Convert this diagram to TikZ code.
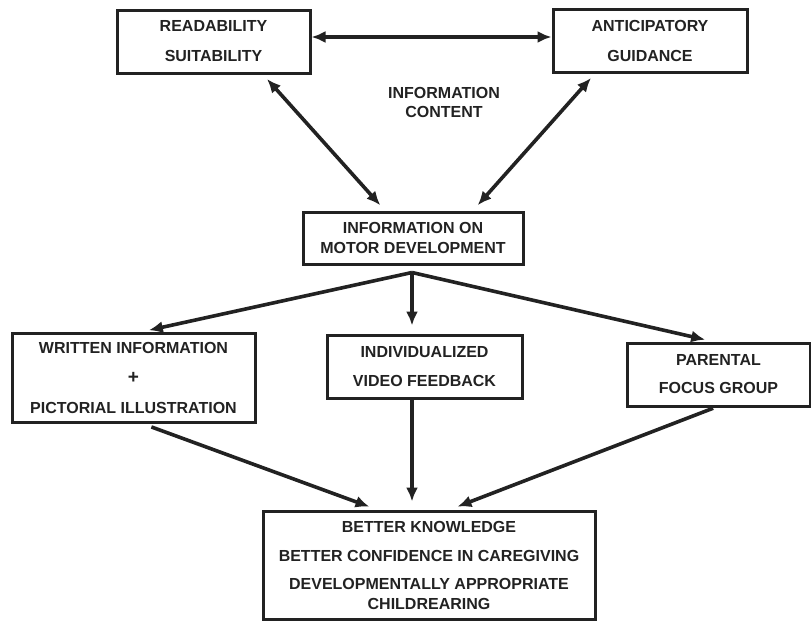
\documentclass[tikz,border=0pt]{standalone}
\usepackage{fontspec}
\setmainfont{Liberation Sans}
\usetikzlibrary{arrows.meta}
\definecolor{ink}{HTML}{222222}

\begin{document}
\begin{tikzpicture}[x=1pt,y=-1pt,
  box/.style={draw=ink,line width=3pt,align=center,inner sep=0pt,text=ink,font=\fontsize{16}{30}\selectfont\bfseries},
  arr/.style={draw=ink,line width=3.6pt,-{Latex[length=14pt,width=12pt]}},
  dbl/.style={draw=ink,line width=3.6pt,{Latex[length=14pt,width=12pt]}-{Latex[length=14pt,width=12pt]}}]
\useasboundingbox (0,0) rectangle (811,621);

\node[box,minimum width=193pt,minimum height=63pt] (read) at (213.5,41.5) {READABILITY\\SUITABILITY};
\node[box,minimum width=194pt,minimum height=63pt] (antic) at (650,40.5) {ANTICIPATORY\\GUIDANCE};
\node[text=ink,align=center,font=\fontsize{16}{19}\selectfont\bfseries] (content) at (444,102) {INFORMATION\\CONTENT};
\node[box,minimum width=220pt,minimum height=52pt,font=\fontsize{16}{20}\selectfont\bfseries] (motor) at (413,238) {INFORMATION ON\\MOTOR DEVELOPMENT};

\node[box,minimum width=243pt,minimum height=89pt] (written) at (133.5,377.5) {WRITTEN INFORMATION\\{\fontsize{19}{30}\selectfont +}\\PICTORIAL ILLUSTRATION};
\node[box,minimum width=195pt,minimum height=63pt,font=\fontsize{16}{29}\selectfont\bfseries] (indiv) at (424.5,366.5) {INDIVIDUALIZED\\VIDEO FEEDBACK};
\node[box,minimum width=183pt,minimum height=63pt,font=\fontsize{16}{28}\selectfont\bfseries] (parental) at (718.5,374.5) {PARENTAL\\FOCUS GROUP};

\node[box,minimum width=332pt,minimum height=108pt,font=\fontsize{16}{20}\selectfont\bfseries] (better) at (429,565) {BETTER KNOWLEDGE\\[9pt]BETTER CONFIDENCE IN CAREGIVING\\[8pt]DEVELOPMENTALLY APPROPRIATE\\CHILDREARING};

\draw[dbl] ([yshift=4.5pt]read.east) -- ([yshift=3.5pt]antic.west);
\draw[dbl,shorten <=6pt,shorten >=7pt] ([xshift=49.5pt]read.south) -- ([xshift=-28pt]motor.north);
\draw[dbl,shorten <=6pt,shorten >=7pt] ([xshift=-55pt]antic.south) -- ([xshift=60pt]motor.north);

\coordinate (split) at ([xshift=-1pt,yshift=-7pt]motor.south);
\draw[arr,shorten >=6pt] (split) -- ([xshift=9.5pt]written.north);
\draw[arr,shorten >=8pt] (split) -- ([xshift=-12.5pt]indiv.north);
\draw[arr,shorten >=8pt] (split) -- ([xshift=-5.5pt]parental.north);

\draw[arr,shorten <=10pt,shorten >=8pt] ([xshift=8.5pt]written.south) -- ([xshift=-52pt]better.north);
\draw[arr,shorten >=8pt] ([xshift=-12.5pt]indiv.south) -- ([xshift=-17pt]better.north);
\draw[arr,shorten <=2pt,shorten >=8pt] ([xshift=-3.5pt]parental.south) -- ([xshift=21pt]better.north);
\end{tikzpicture}
\end{document}
